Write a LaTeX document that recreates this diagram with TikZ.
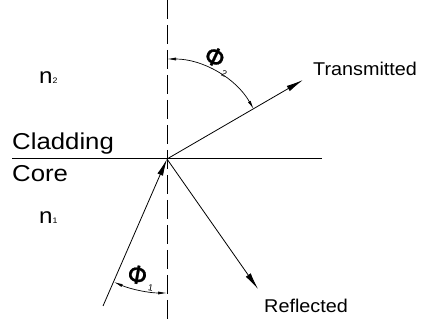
\documentclass[tikz,border=0pt]{standalone}
\usepackage{fontspec}
\setmainfont{Liberation Sans}
\newfontfamily\phifont[FakeBold=1]{DejaVu Sans}
\usetikzlibrary{arrows.meta}
\newcommand{\phisub}[1]{{\phifont\fontsize{25}{25}\selectfont Φ}\kern3pt\raisebox{-5pt}{\fontsize{9}{9}\selectfont #1}}
\begin{document}
\begin{tikzpicture}[x=1pt,y=1pt,
  ray/.style={line width=0.8pt,-{Latex[length=17pt,width=6pt]}},
  anglearc/.style={line width=0.7pt,{Latex[length=9pt,width=3pt]}-{Latex[length=9pt,width=3pt]}},
  big/.style={font=\fontsize{23}{23}\selectfont,inner sep=0pt,anchor=base west,xscale=1.12,transform shape},
  lbl/.style={font=\fontsize{18.5}{18.5}\selectfont,inner sep=0pt,anchor=base west,xscale=1.07,transform shape},
  idx/.style={font=\fontsize{22}{22}\selectfont,inner sep=0pt,anchor=base west,xscale=1.1,transform shape},
  phl/.style={inner sep=0pt,anchor=base west,transform shape}]
\useasboundingbox (0,0) rectangle (426,320);
\coordinate (O) at (167,161);
\coordinate (top) at (167,320);
\coordinate (bot) at (167,0);
\coordinate (L) at (12,161);
\coordinate (R) at (322,161);
\coordinate (inc) at (103,14);
\coordinate (tr) at (303,240);
\coordinate (rf) at (258,31);
% normal (dashed)
\draw[line width=0.8pt,dash pattern=on 19pt off 6pt] (top) -- (bot);
% interface
\draw[line width=1pt] (L) -- (R);
% rays
\draw[ray] (inc) -- (O);
\draw[ray] (O) -- (tr);
\draw[ray] (O) -- (rf);
% angle arcs
\draw[anglearc] ([shift={(90:100)}]O) arc[start angle=90,end angle=29.8,radius=100];
\draw[anglearc] ([shift={(246.6:134)}]O) arc[start angle=246.6,end angle=270,radius=134];
% texts
\node[big] (clad) at (12,170) {Cladding};
\node[big] (core) at (12,138) {Core};
\node[idx] (n2) at (39,236) {n\fontsize{8}{8}\selectfont 2};
\node[idx] (n1) at (39,96) {n\fontsize{8}{8}\selectfont 1};
\node[lbl] (tlab) at (313,244) {Transmitted};
\node[lbl] (rlab) at (264,7) {Reflected};
\node[phl,rotate=-25] (phi2) at (202,259) {\phisub{2}};
\node[phl,rotate=-10] (phi1) at (126,38) {\phisub{1}};
\end{tikzpicture}
\end{document}
